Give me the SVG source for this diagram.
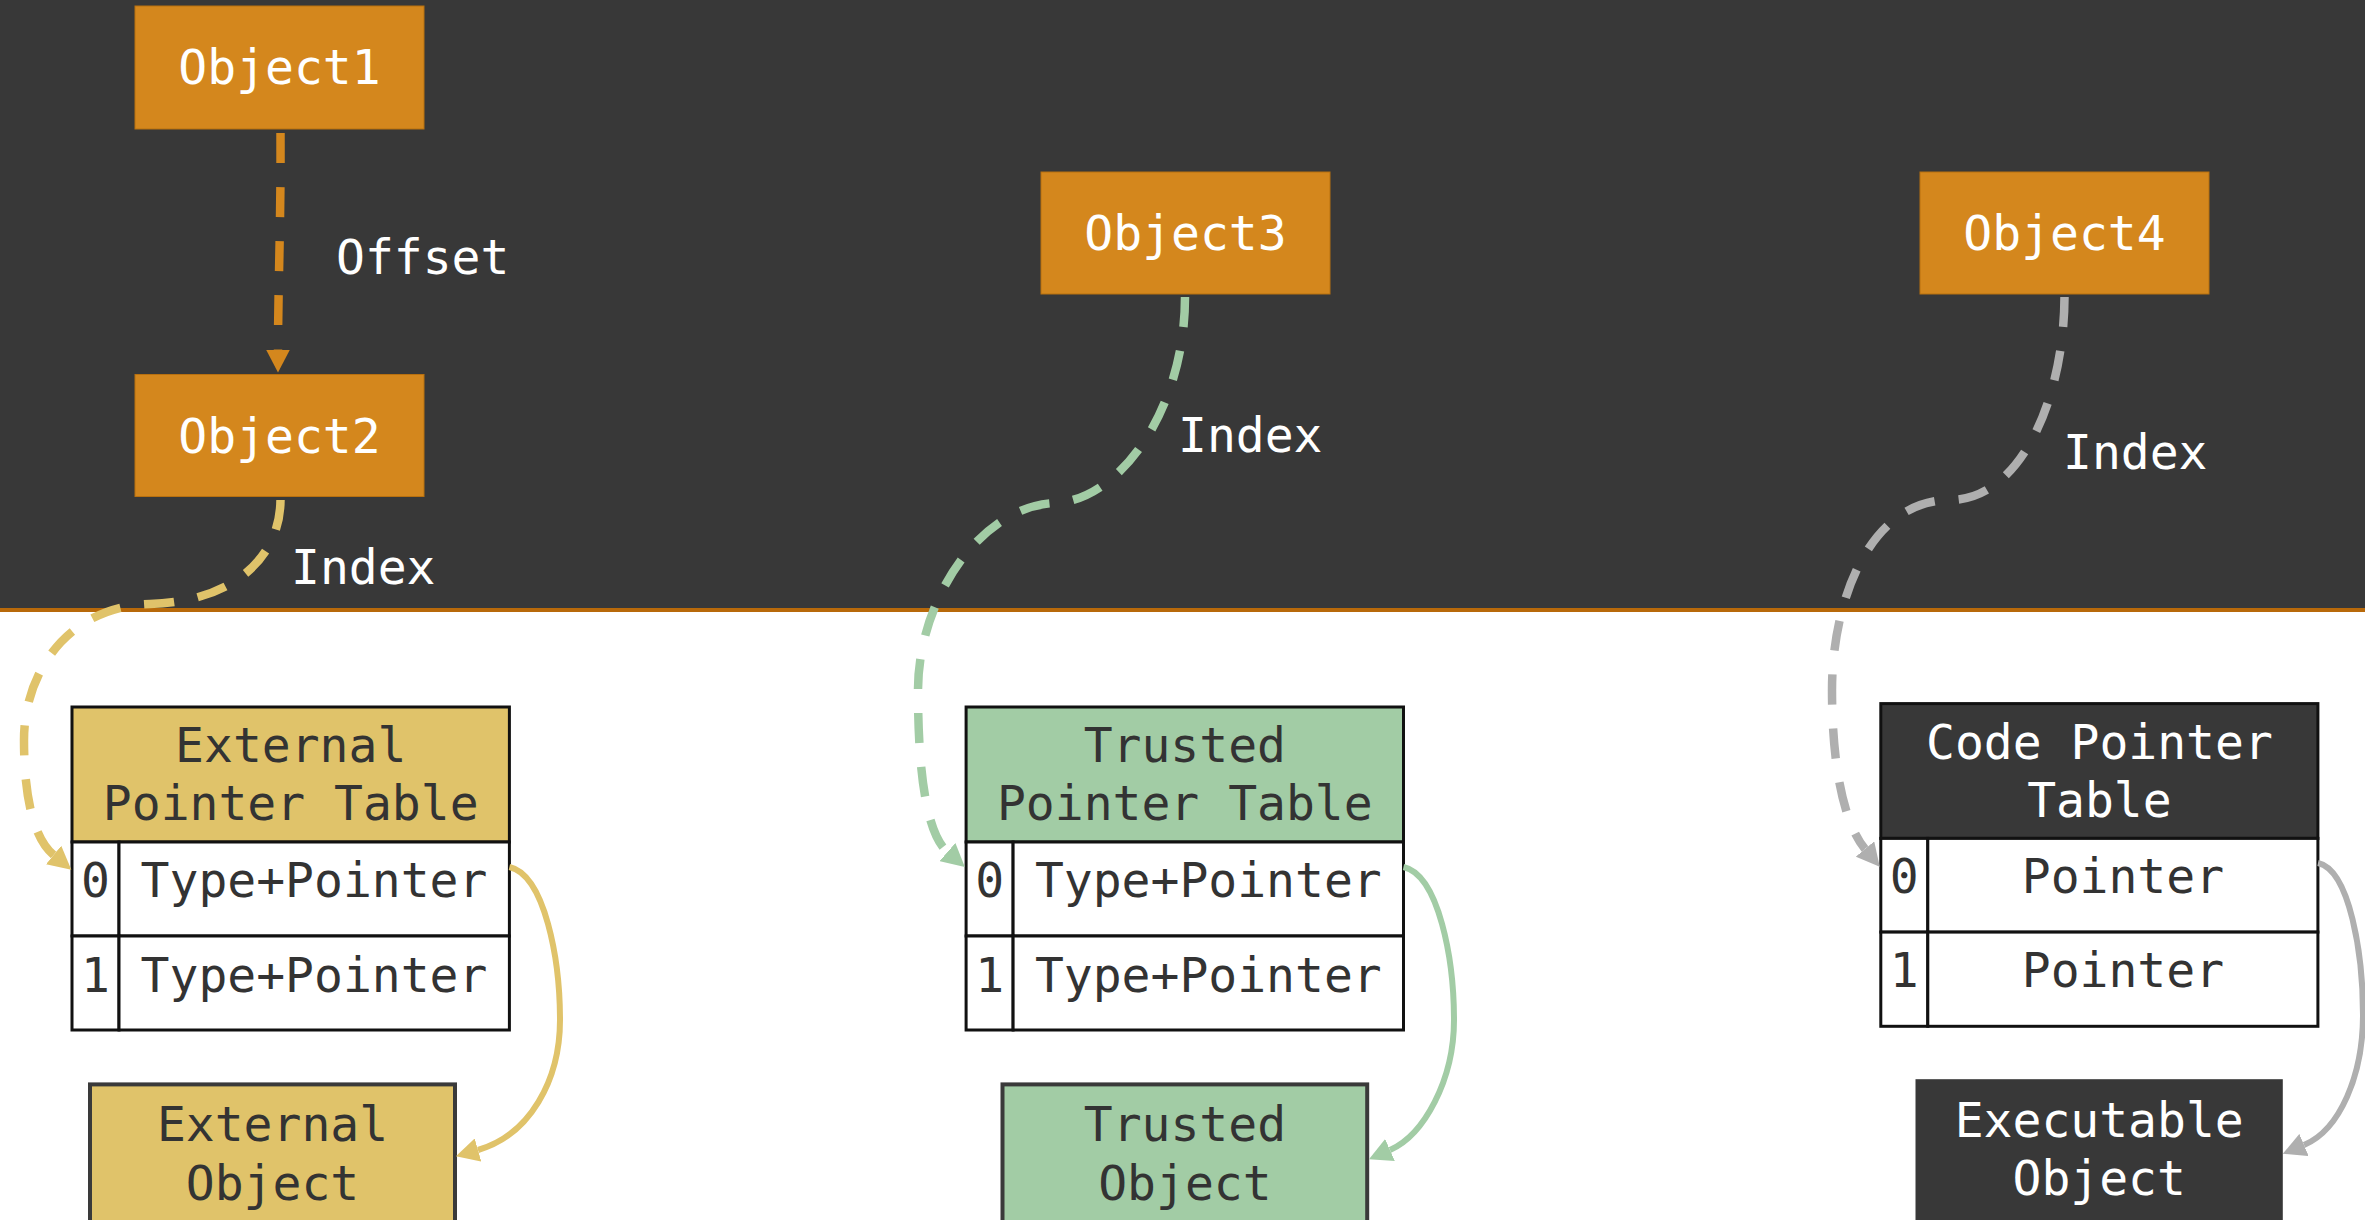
<svg xmlns="http://www.w3.org/2000/svg" width="2365" height="1220" viewBox="0 0 2365 1220">
<style>
text{font-family:"DejaVu Sans Mono","Liberation Mono",monospace;font-size:48px;}
.w{fill:#ffffff;}
.d{fill:#333333;}
.c{text-anchor:middle;}
.obj{fill:#d4871d;stroke:#b8700f;stroke-width:1;}
.cell{fill:#ffffff;stroke:#111111;stroke-width:3;}
.hdr{stroke:#111111;stroke-width:3;}
.box{stroke:#3a3a3a;stroke-width:4;}
.dash{fill:none;stroke-width:8.5;stroke-dasharray:30 24;}
.solid{fill:none;stroke-width:6;}
</style>
<defs>
<marker id="aO" markerUnits="userSpaceOnUse" markerWidth="24" markerHeight="24" refX="0" refY="12" orient="auto" viewBox="0 0 24 24"><path d="M0,0 L23,12 L0,24 z" fill="#d4871d"/></marker>
<marker id="aY" markerUnits="userSpaceOnUse" markerWidth="24" markerHeight="24" refX="0" refY="12" orient="auto" viewBox="0 0 24 24"><path d="M0,0 L23,12 L0,24 z" fill="#e0c36a"/></marker>
<marker id="aG" markerUnits="userSpaceOnUse" markerWidth="24" markerHeight="24" refX="0" refY="12" orient="auto" viewBox="0 0 24 24"><path d="M0,0 L23,12 L0,24 z" fill="#a2cca5"/></marker>
<marker id="aR" markerUnits="userSpaceOnUse" markerWidth="24" markerHeight="24" refX="0" refY="12" orient="auto" viewBox="0 0 24 24"><path d="M0,0 L23,12 L0,24 z" fill="#afafaf"/></marker>
</defs>
<rect x="0" y="0" width="2365" height="1220" fill="#ffffff"/>
<rect x="0" y="0" width="2365" height="608" fill="#383838"/>
<rect x="0" y="608" width="2365" height="4" fill="#b8690a"/>

<g id="node-object1"><rect class="obj" x="135" y="6" width="289" height="123"/><text class="w c" x="279.5" y="84">Object1</text></g>
<g id="node-object2"><rect class="obj" x="135" y="374.5" width="289" height="122"/><text class="w c" x="279.5" y="452.5">Object2</text></g>
<g id="node-object3"><rect class="obj" x="1041" y="172" width="289" height="122"/><text class="w c" x="1185.5" y="250">Object3</text></g>
<g id="node-object4"><rect class="obj" x="1920" y="172" width="289" height="122"/><text class="w c" x="2064.5" y="250">Object4</text></g>

<g id="node-external-table">
<rect class="hdr" x="72" y="707" width="437.4" height="135" fill="#e0c36a"/>
<text class="d c" x="290.7" y="762">External</text>
<text class="d c" x="290.7" y="820">Pointer Table</text>
<rect class="cell" x="72" y="842" width="47" height="94"/>
<rect class="cell" x="119" y="842" width="390.4" height="94"/>
<rect class="cell" x="72" y="936" width="47" height="94"/>
<rect class="cell" x="119" y="936" width="390.4" height="94"/>
<text class="d c" x="95.5" y="896.6">0</text>
<text class="d c" x="314" y="896.6">Type+Pointer</text>
<text class="d c" x="95.5" y="991.5">1</text>
<text class="d c" x="314" y="991.5">Type+Pointer</text>
</g>
<g id="node-trusted-table">
<rect class="hdr" x="966.1" y="707" width="437.4" height="135" fill="#a2cca5"/>
<text class="d c" x="1184.8" y="762">Trusted</text>
<text class="d c" x="1184.8" y="820">Pointer Table</text>
<rect class="cell" x="966.1" y="842" width="47" height="94"/>
<rect class="cell" x="1013.1" y="842" width="390.4" height="94"/>
<rect class="cell" x="966.1" y="936" width="47" height="94"/>
<rect class="cell" x="1013.1" y="936" width="390.4" height="94"/>
<text class="d c" x="989.6" y="896.6">0</text>
<text class="d c" x="1208.3" y="896.6">Type+Pointer</text>
<text class="d c" x="989.6" y="991.5">1</text>
<text class="d c" x="1208.3" y="991.5">Type+Pointer</text>
</g>
<g id="node-code-table">
<rect class="hdr" x="1880.8" y="703.6" width="437.1" height="134.8" fill="#383838"/>
<text class="w c" x="2099.4" y="759.4">Code Pointer</text>
<text class="w c" x="2099.4" y="816.7">Table</text>
<rect class="cell" x="1880.8" y="838.4" width="47" height="93.7"/>
<rect class="cell" x="1927.8" y="838.4" width="390.1" height="93.7"/>
<rect class="cell" x="1880.8" y="932.1" width="47" height="94.2"/>
<rect class="cell" x="1927.8" y="932.1" width="390.1" height="94.2"/>
<text class="d c" x="1904.3" y="892.6">0</text>
<text class="d c" x="2122.9" y="892.6">Pointer</text>
<text class="d c" x="1904.3" y="987">1</text>
<text class="d c" x="2122.9" y="987">Pointer</text>
</g>

<g id="node-external-object"><rect class="box" x="90" y="1084.4" width="365" height="170" fill="#e0c36a"/><text class="d c" x="272.5" y="1141">External</text><text class="d c" x="272.5" y="1199.8">Object</text></g>
<g id="node-trusted-object"><rect class="box" x="1002.5" y="1084.4" width="364.7" height="170" fill="#a2cca5"/><text class="d c" x="1184.9" y="1141">Trusted</text><text class="d c" x="1184.9" y="1199.8">Object</text></g>
<g id="node-executable-object"><rect x="1915.5" y="1079.2" width="367.3" height="170" fill="#383838"/><text class="w c" x="2099.2" y="1137">Executable</text><text class="w c" x="2099.2" y="1195">Object</text></g>

<g id="connectors">
<path class="dash" stroke="#d4871d" d="M280.5 133 C281 220 278 290 278 349.5" marker-end="url(#aO)"/>
<path class="dash" stroke="#e0c36a" d="M280.5 500 C280 560 230 602 150 604 C70 606 24 670 24 740 C24 795 33 838 53.6 855" marker-end="url(#aY)"/>
<path class="dash" stroke="#a2cca5" d="M1185 297 C1185 410 1120 500 1055 503 C980 506 918 600 918 690 C918 780 928 835 947.5 852" marker-end="url(#aG)"/>
<path class="dash" stroke="#afafaf" d="M2064.5 297 C2064 400 2020 500 1950 500 C1870 500 1832 600 1832 690 C1832 770 1845 825 1865 849" marker-end="url(#aR)"/>
<path class="solid" stroke="#e0c36a" d="M509.4 867 C545 875 560 960 560 1020 C560 1080 530 1135 478 1150" marker-end="url(#aY)"/>
<path class="solid" stroke="#a2cca5" d="M1403.5 867 C1439 875 1454 960 1454 1020 C1454 1080 1424 1135 1390 1150" marker-end="url(#aG)"/>
<path class="solid" stroke="#afafaf" d="M2318 863 C2350 870 2363 955 2363 1015 C2363 1075 2340 1130 2304 1145" marker-end="url(#aR)"/>
<text class="w" x="336" y="273.6">Offset</text>
<text class="w" x="291" y="584">Index</text>
<text class="w" x="1178" y="452.3">Index</text>
<text class="w" x="2063" y="469.3">Index</text>
</g>
</svg>
